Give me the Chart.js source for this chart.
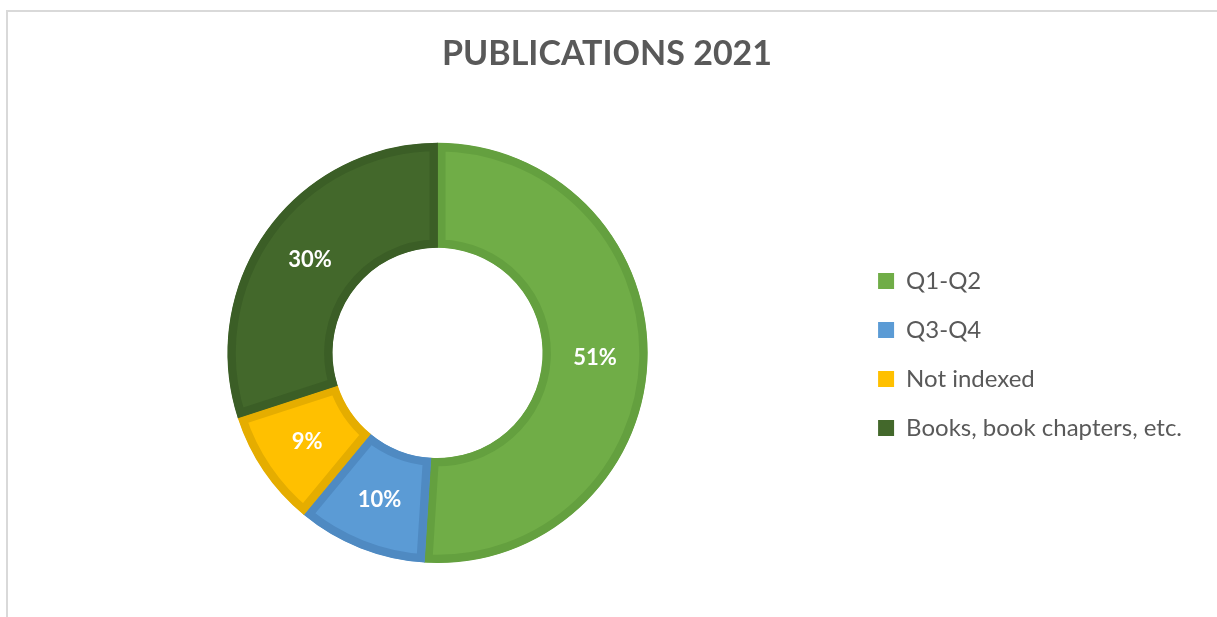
<!DOCTYPE html>
<html>
<head>
<meta charset="utf-8">
<script src="https://cdn.jsdelivr.net/npm/chart.js@4"></script>
<style>
  html, body { margin: 0; padding: 0; background: #fff; }
  #frame { position: absolute; left: 6px; top: 10px; right: 0; bottom: 0; border-left: 2px solid #d9d9d9; border-top: 2px solid #d9d9d9; }
  #wrap { position: absolute; left: 0; top: 0; width: 1217px; height: 617px; }
</style>
</head>
<body>
<div id="frame"></div>
<div id="wrap"><canvas id="pubChart" width="1217" height="617"></canvas></div>
<script>
const categories = ["Q1-Q2", "Q3-Q4", "Not indexed", "Books, book chapters, etc."];
const shares = [51, 10, 9, 30];
const fillColors = ["#70AD47", "#5B9BD5", "#FFC000", "#43682B"];
const edgeColors = ["#64A03F", "#4F8AC2", "#E5AD00", "#3B5E26"];

// percent labels in the middle of each slice
const sliceLabels = {
  id: "sliceLabels",
  afterDatasetsDraw(chart) {
    const ctx = chart.ctx;
    const meta = chart.getDatasetMeta(0);
    ctx.save();
    ctx.fillStyle = "#ffffff";
    ctx.font = "bold 22px Lato, 'Open Sans', sans-serif";
    ctx.textAlign = "center";
    ctx.textBaseline = "middle";
    meta.data.forEach((arc, i) => {
      const p = arc.tooltipPosition();
      ctx.fillText(shares[i] + "%", p.x, p.y);
    });
    ctx.restore();
  }
};

new Chart(document.getElementById("pubChart"), {
  type: "doughnut",
  data: {
    labels: categories,
    datasets: [{
      data: shares,
      backgroundColor: fillColors,
      borderColor: edgeColors,
      borderWidth: 8,
      borderAlign: "inner",
      borderJoinStyle: "miter",
      hoverOffset: 0,
    }],
  },
  options: {
    responsive: false,
    animation: false,
    cutout: "50%",
    layout: { padding: { left: 22, right: 25, top: 0, bottom: 54 } },
    plugins: {
      title: {
        display: true,
        text: "PUBLICATIONS 2021",
        color: "#595959",
        font: { family: "Lato, 'Open Sans', sans-serif", size: 34, weight: "bold" },
        padding: { top: 34, bottom: 68 },
      },
      legend: {
        position: "right",
        // empty title only pushes the items down to sit beside the ring
        title: { display: true, text: "", font: { size: 10 }, padding: { top: 0, bottom: 134 } },
        labels: {
          color: "#595959",
          font: { family: "Lato, 'Open Sans', sans-serif", size: 24 },
          boxWidth: 16,
          boxHeight: 16,
          padding: 25,
          generateLabels(chart) {
            const items = Chart.overrides.doughnut.plugins.legend.labels.generateLabels(chart);
            items.forEach((it, i) => { it.strokeStyle = fillColors[i]; it.lineWidth = 0; it.fillStyle = fillColors[i]; });
            return items;
          },
        },
      },
      tooltip: { enabled: false },
    },
  },
  plugins: [sliceLabels],
});
</script>
</body>
</html>
